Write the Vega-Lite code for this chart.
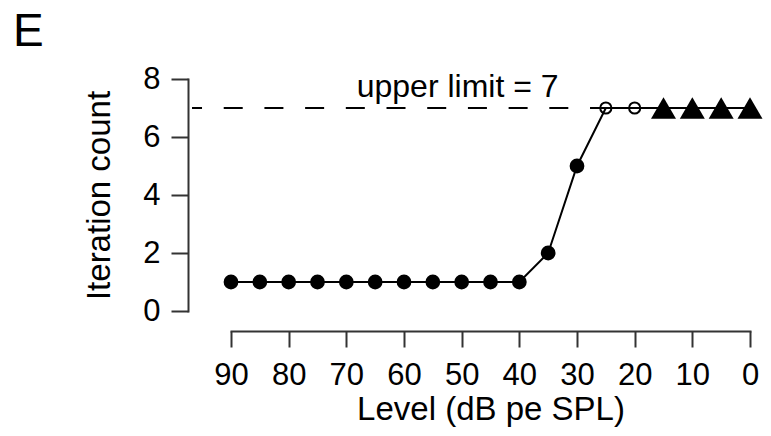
{
  "$schema": "https://vega.github.io/schema/vega-lite/v6.json",
  "width": 519,
  "height": 232,
  "autosize": "none",
  "padding": {"left": 231, "top": 79, "right": 21, "bottom": 125},
  "background": "white",
  "title": {
    "text": "E",
    "anchor": "start",
    "frame": "group",
    "fontSize": 46,
    "fontWeight": "normal",
    "font": "Liberation Sans",
    "color": "black",
    "baseline": "alphabetic",
    "dx": -218,
    "dy": 45,
    "offset": 16
  },
  "config": {
    "view": {"stroke": null},
    "font": "Liberation Sans",
    "axis": {
      "grid": false,
      "domainColor": "#333333",
      "domainWidth": 2,
      "tickColor": "#333333",
      "tickWidth": 2,
      "labelFont": "Liberation Sans",
      "labelFontSize": 31,
      "labelColor": "black",
      "titleFont": "Liberation Sans",
      "titleFontSize": 33,
      "titleFontWeight": "normal",
      "titleColor": "black",
      "domainCap": "square"
    }
  },
  "datasets": {
    "pts": [
      {"level": 90, "count": 1, "kind": "filled"},
      {"level": 85, "count": 1, "kind": "filled"},
      {"level": 80, "count": 1, "kind": "filled"},
      {"level": 75, "count": 1, "kind": "filled"},
      {"level": 70, "count": 1, "kind": "filled"},
      {"level": 65, "count": 1, "kind": "filled"},
      {"level": 60, "count": 1, "kind": "filled"},
      {"level": 55, "count": 1, "kind": "filled"},
      {"level": 50, "count": 1, "kind": "filled"},
      {"level": 45, "count": 1, "kind": "filled"},
      {"level": 40, "count": 1, "kind": "filled"},
      {"level": 35, "count": 2, "kind": "filled"},
      {"level": 30, "count": 5, "kind": "filled"},
      {"level": 25, "count": 7, "kind": "open"},
      {"level": 20, "count": 7, "kind": "open"},
      {"level": 15, "count": 7, "kind": "triangle"},
      {"level": 10, "count": 7, "kind": "triangle"},
      {"level": 5, "count": 7, "kind": "triangle"},
      {"level": 0, "count": 7, "kind": "triangle"}
    ],
    "limit": [{"from": 96.76, "to": 25, "y": 7}],
    "note": [{"level": 50.7, "count": 7.38, "label": "upper limit = 7"}]
  },
  "encoding": {
    "x": {
      "field": "level",
      "type": "quantitative",
      "scale": {"domain": [0, 90], "reverse": true, "nice": false, "zero": false},
      "axis": {
        "title": "Level (dB pe SPL)",
        "values": [90, 80, 70, 60, 50, 40, 30, 20, 10, 0],
        "offset": 20,
        "tickSize": 16,
        "labelPadding": 13,
        "titlePadding": 3,
        "labelFlush": false,
        "labelOverlap": false
      }
    },
    "y": {
      "field": "count",
      "type": "quantitative",
      "scale": {"domain": [0, 8], "nice": false, "zero": false},
      "axis": {
        "title": "Iteration count",
        "values": [0, 2, 4, 6, 8],
        "offset": 43,
        "tickSize": 17,
        "labelPadding": 11,
        "titlePadding": 26,
        "labelFlush": false,
        "labelOverlap": false
      }
    }
  },
  "layer": [
    {
      "data": {"name": "limit"},
      "mark": {"type": "rule", "color": "black", "strokeWidth": 2, "strokeDash": [19, 21.7], "strokeDashOffset": 9},
      "encoding": {
        "x": {"field": "from", "type": "quantitative"},
        "x2": {"field": "to"},
        "y": {"field": "y", "type": "quantitative"}
      }
    },
    {
      "data": {"name": "pts"},
      "mark": {"type": "line", "color": "black", "strokeWidth": 2},
      "encoding": {
        "order": {"field": "level", "sort": "descending"}
      }
    },
    {
      "data": {"name": "pts"},
      "transform": [{"filter": "datum.kind === 'filled'"}],
      "mark": {"type": "point", "shape": "circle", "filled": true, "color": "black", "size": 218, "opacity": 1}
    },
    {
      "data": {"name": "pts"},
      "transform": [{"filter": "datum.kind === 'open'"}],
      "mark": {"type": "point", "shape": "circle", "filled": false, "color": "black", "size": 125, "strokeWidth": 2, "opacity": 1}
    },
    {
      "data": {"name": "pts"},
      "transform": [{"filter": "datum.kind === 'triangle'"}],
      "mark": {"type": "point", "shape": "triangle-up", "filled": true, "color": "black", "size": 625, "opacity": 1}
    },
    {
      "data": {"name": "note"},
      "mark": {"type": "text", "fontSize": 32, "font": "Liberation Sans", "color": "black", "align": "center", "baseline": "alphabetic"},
      "encoding": {
        "text": {"field": "label"}
      }
    }
  ]
}
